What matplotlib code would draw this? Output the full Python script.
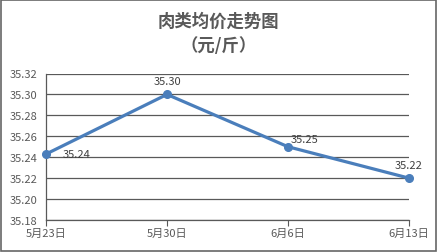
import matplotlib.pyplot as plt
import numpy as np

plt.rcParams['font.family'] = ['Noto Sans CJK SC', 'DejaVu Sans']

dates = ['5月23日', '5月30日', '6月6日', '6月13日']
prices = [35.243, 35.30, 35.25, 35.22]
yticks = [35.18, 35.20, 35.22, 35.24, 35.26, 35.28, 35.30, 35.32]

gray = '#595959'
blue = '#4a7ebb'

fig = plt.figure(figsize=(4.37, 2.53), dpi=100)
ax = fig.add_axes([46/437, 1 - 221/253, (409 - 46)/437, (221 - 74.5)/253])

x = np.arange(len(dates))
ax.plot(x, prices, color=blue, lw=2.3, marker='o', ms=5.5, zorder=3, clip_on=False)

# data labels
offsets = [(12, 0, 'left', 'center'), (0, 6, 'center', 'bottom'),
           (2, 2, 'left', 'bottom'), (0, 6, 'center', 'bottom')]
for xi, p, (dx, dy, ha, va) in zip(x, prices, offsets):
    ax.annotate('%.2f' % p, (xi, p), xytext=(dx, dy), textcoords='offset points',
                ha=ha, va=va, fontsize=8, color='#404040')

ax.set_xlim(0, len(dates) - 1)
ax.set_ylim(35.18, 35.32)
ax.set_yticks(yticks)
ax.set_yticklabels(['%.2f' % t for t in yticks])
ax.set_xticks(x)
ax.set_xticklabels(dates)
ax.yaxis.grid(True, color=gray, lw=0.9)
ax.set_axisbelow(True)
for s in ['top', 'right']:
    ax.spines[s].set_visible(False)
for s in ['left', 'bottom']:
    ax.spines[s].set_color(gray)
    ax.spines[s].set_linewidth(0.9)
ax.tick_params(axis='y', length=0, labelsize=8, labelcolor=gray, pad=6)
ax.tick_params(axis='x', length=4, color=gray, labelsize=8, labelcolor=gray, pad=2)

fig.text(0.5, 1 - 22/253, '肉类均价走势图', ha='center', va='center', fontsize=12.5,
         color=gray, fontweight='bold')
fig.text(0.5, 1 - 46/253, '（元/斤）', ha='center', va='center', fontsize=12.5,
         color=gray, fontweight='bold')

fig.patches.append(plt.Rectangle((0.003, 0.004), 0.994, 0.992, transform=fig.transFigure,
                                 fill=False, edgecolor='#666666', lw=1.2))

fig.savefig('out.png', dpi=100)
